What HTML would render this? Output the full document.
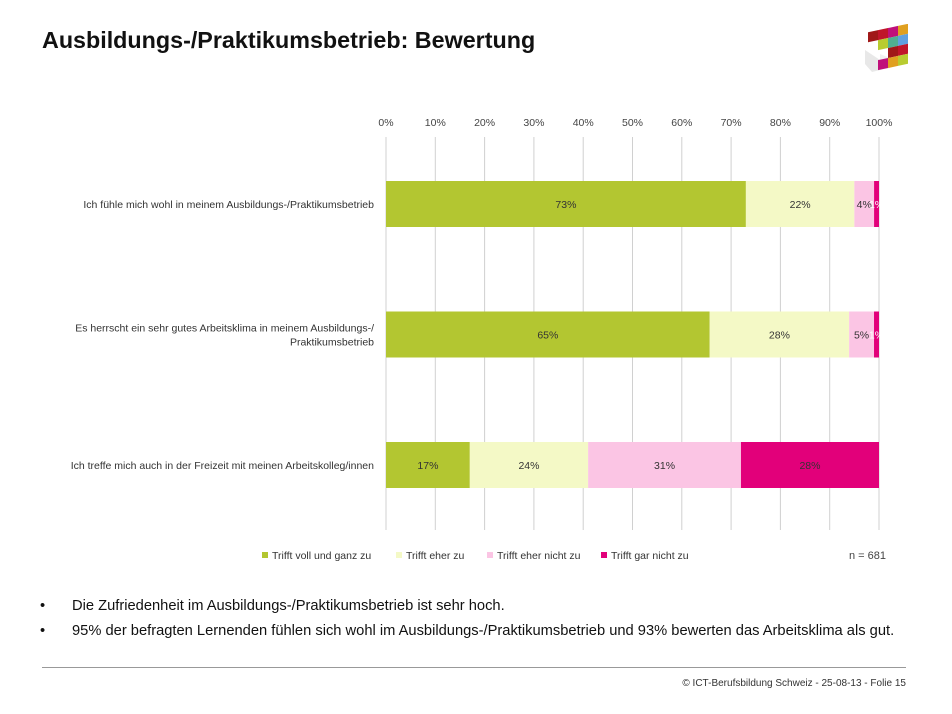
<!DOCTYPE html>
<html><head><meta charset="utf-8"><style>
body{margin:0;width:952px;height:714px;background:#fff;font-family:"Liberation Sans",sans-serif;position:relative;overflow:hidden}
.t{position:absolute;white-space:nowrap}
</style></head><body>
<div class="t" style="left:42px;top:27px;font-size:23.3px;font-weight:bold;color:#111">Ausbildungs-/Praktikumsbetrieb: Bewertung</div>
<svg style="position:absolute;left:860px;top:24px" width="56" height="52" viewBox="0 0 56 52">
<polygon points="5,26 20,36 20,46 12,48 5,40" fill="#e8e8e8"/>
<polygon points="20,30 30,34 30,44 20,46" fill="#f0f0f0"/>
<rect x="8" y="10" width="10" height="10" fill="#a01818" transform="skewY(-12)"/>
<rect x="18" y="10" width="10" height="10" fill="#c0152a" transform="skewY(-12)"/>
<rect x="28" y="10" width="10" height="10" fill="#c0107a" transform="skewY(-12)"/>
<rect x="38" y="10" width="10" height="10" fill="#e0a020" transform="skewY(-12)"/>
<rect x="28" y="20" width="10" height="10" fill="#50b090" transform="skewY(-12)"/>
<rect x="38" y="20" width="10" height="10" fill="#60a0e0" transform="skewY(-12)"/>
<rect x="18" y="20" width="10" height="10" fill="#b8cc30" transform="skewY(-12)"/>
<rect x="28" y="30" width="10" height="10" fill="#a01818" transform="skewY(-12)"/>
<rect x="38" y="30" width="10" height="10" fill="#c0152a" transform="skewY(-12)"/>
<rect x="38" y="40" width="10" height="10" fill="#b8cc30" transform="skewY(-12)"/>
<rect x="28" y="40" width="10" height="10" fill="#e0a020" transform="skewY(-12)"/>
<rect x="18" y="40" width="10" height="10" fill="#c0107a" transform="skewY(-12)"/>
</svg>
<svg id="chart" style="position:absolute;left:0;top:0" width="952" height="714"></svg>
<div class="t" style="left:849px;top:550px;font-size:11px;color:#444">n = 681</div>
<div class="t" style="left:40px;top:598px;font-size:14.7px;color:#111">•<span style="position:absolute;left:32px">Die Zufriedenheit im Ausbildungs-/Praktikumsbetrieb ist sehr hoch.</span></div>
<div class="t" style="left:40px;top:623px;font-size:14.7px;color:#111">•<span style="position:absolute;left:32px">95% der befragten Lernenden fühlen sich wohl im Ausbildungs-/Praktikumsbetrieb und 93% bewerten das Arbeitsklima als gut.</span></div>
<div style="position:absolute;left:42px;top:667px;width:864px;height:1px;background:#999"></div>
<div class="t" style="right:46px;top:678px;font-size:10px;color:#333">© ICT-Berufsbildung Schweiz - 25-08-13 - Folie 15</div>
<script>
const categories=["Ich fühle mich wohl in meinem Ausbildungs-/Praktikumsbetrieb","Es herrscht ein sehr gutes Arbeitsklima in meinem Ausbildungs-/|Praktikumsbetrieb","Ich treffe mich auch in der Freizeit mit meinen Arbeitskolleg/innen"];
const seriesNames=["Trifft voll und ganz zu","Trifft eher zu","Trifft eher nicht zu","Trifft gar nicht zu"];
const s1=[73,65,17];
const s2=[22,28,24];
const s3=[4,5,31];
const s4=[1,1,28];
const ticks=[0,10,20,30,40,50,60,70,80,90,100];
const colors=["#b3c631","#f4f9c6","#fbc5e4","#e2007a"];
const svg=document.getElementById('chart');const NS="http://www.w3.org/2000/svg";
const x0=386,x1=879,yTop=137,yBot=530;
const xs=v=>x0+(x1-x0)*v/100;
const rowY=i=>181+i*130.5;const bh=46;
function mk(t,a){const e=document.createElementNS(NS,t);for(const k in a)e.setAttribute(k,a[k]);svg.appendChild(e);return e;}
ticks.forEach(t=>{const g=mk('line',{x1:xs(t),x2:xs(t),y1:yTop,y2:yBot,stroke:'#d0d0d0','stroke-width':1});


const l=mk('text',{x:xs(t),y:126,'font-size':10.5,'text-anchor':'middle',fill:'#444','font-family':'Liberation Sans'});l.textContent=t+'%';

});
const series=[s1,s2,s3,s4];
categories.forEach((c,i)=>{
 const parts=c.split('|');const cy=rowY(i)+bh/2;
 parts.forEach((p,j)=>{const t=mk('text',{x:374,y:cy+4+(j-(parts.length-1)/2)*14,'font-size':10.5,'text-anchor':'end',fill:'#333','font-family':'Liberation Sans'});t.textContent=p;
 
 });
 const tot=series.reduce((a,s)=>a+s[i],0);let acc=0;
 series.forEach((s,k)=>{const v=s[i]*100/tot;const r=mk('rect',{x:xs(acc),y:rowY(i),width:xs(acc+v)-xs(acc),height:bh,fill:colors[k]});
 
 
 const lb=mk('text',{x:(xs(acc)+xs(acc+v))/2,y:cy+4,'font-size':10.5,'text-anchor':'middle',fill:k==3&&v<5?'#fff':'#333','font-family':'Liberation Sans'});lb.textContent=s[i]+'%';
 
 
 acc+=v;});
});
const lx=[262,396,487,601];
seriesNames.forEach((n,k)=>{const r=mk('rect',{x:lx[k],y:552,width:6,height:6,fill:colors[k]});


const t=mk('text',{x:lx[k]+10,y:559,'font-size':10.5,fill:'#333','font-family':'Liberation Sans'});t.textContent=n;

});
</script>
</body></html>
